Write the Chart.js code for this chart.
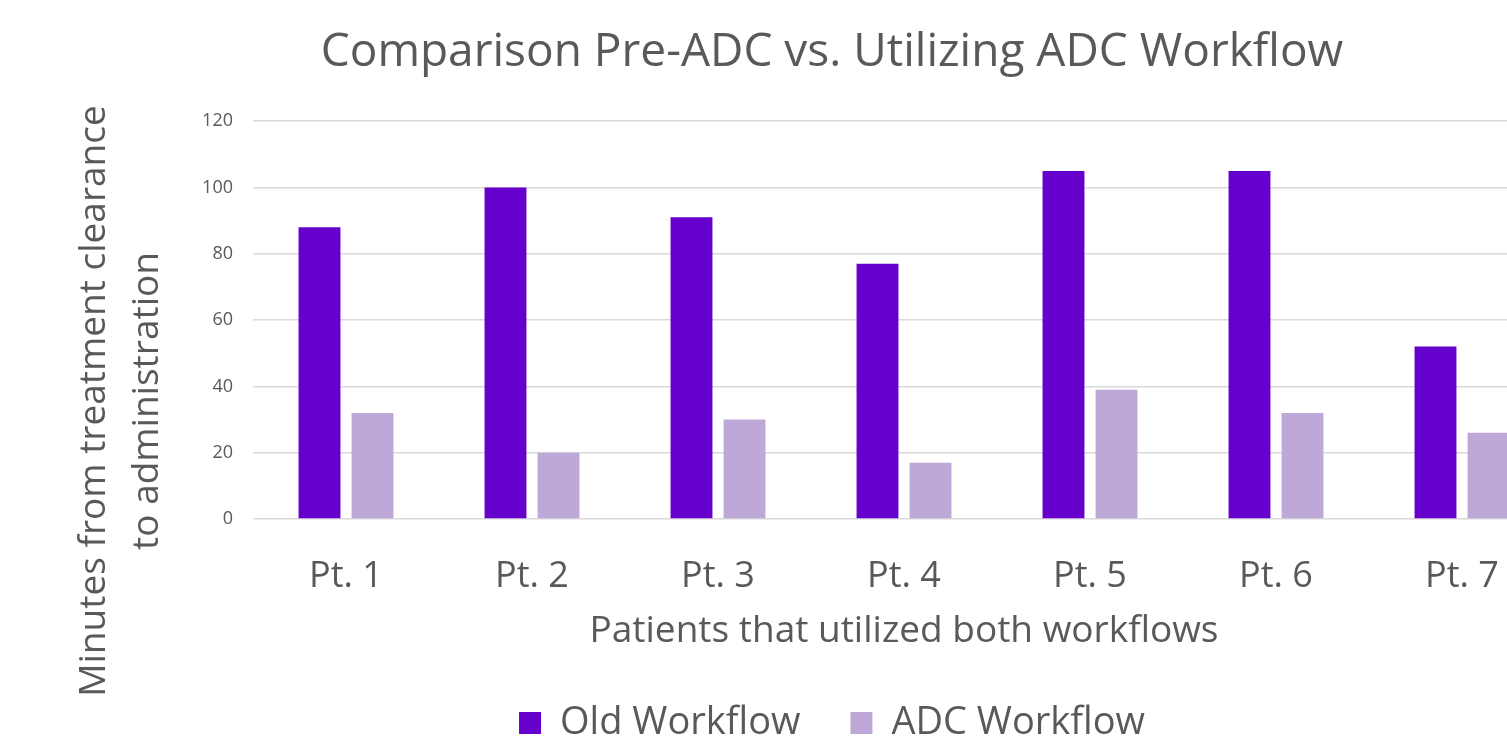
<!DOCTYPE html>
<html>
<head>
<meta charset="utf-8">
<title>Comparison Pre-ADC vs. Utilizing ADC Workflow</title>
<script src="https://cdn.jsdelivr.net/npm/chart.js@4.4.0/dist/chart.umd.min.js"></script>
<style>
  html, body { margin: 0; padding: 0; background: #fff; overflow: hidden; }
  #wrap { position: relative; width: 1664px; height: 752px; }
</style>
</head>
<body>
<div id="wrap"><canvas id="myChart"></canvas></div>
<script>
// data
var patients = ["Pt. 1", "Pt. 2", "Pt. 3", "Pt. 4", "Pt. 5", "Pt. 6", "Pt. 7"];
var oldWorkflow = [88, 100, 91, 77, 105, 105, 52];
var adcWorkflow = [32, 20, 30, 17, 39, 32, 26];
var yTitleLines = ["Minutes from treatment clearance", "to administration"];

var textGrey = "#595959";
Chart.defaults.font.family = "'Open Sans', sans-serif";
Chart.defaults.color = textGrey;

// y axis title drawn by hand, Excel puts it lower than the plot centre
var yTitlePlugin = {
  id: "yTitle",
  afterDraw: function (chart) {
    var ctx = chart.ctx;
    ctx.save();
    ctx.fillStyle = textGrey;
    ctx.font = "37px 'Open Sans'";
    ctx.textAlign = "center";
    ctx.textBaseline = "middle";
    ctx.translate(0, 401);
    ctx.rotate(-Math.PI / 2);
    ctx.fillText(yTitleLines[0], 0, 94);
    ctx.fillText(yTitleLines[1], 0, 147);
    ctx.restore();
  }
};

var ctx = document.getElementById("myChart").getContext("2d");
var myChart = new Chart(ctx, {
  type: "bar",
  data: {
    labels: patients,
    datasets: [
      {
        label: "Old Workflow",
        data: oldWorkflow,
        backgroundColor: "#6600cc",
        barPercentage: 0.79,
        categoryPercentage: 0.57,
      },
      {
        label: "ADC Workflow",
        data: adcWorkflow,
        backgroundColor: "#bea8d8",
        barPercentage: 0.79,
        categoryPercentage: 0.57,
      },
    ],
  },
  options: {
    responsive: true,
    maintainAspectRatio: false,
    animation: false,
    plugins: {
      title: {
        display: true,
        text: "Comparison Pre-ADC vs. Utilizing ADC Workflow",
        font: { size: 46, weight: "normal" },
        color: textGrey,
        padding: { top: 25, bottom: 41 },
      },
      legend: {
        position: "bottom",
        labels: {
          font: { size: 38 },
          color: textGrey,
          boxWidth: 22,
          boxHeight: 22,
          padding: 50,
        },
      },
      tooltip: { enabled: false },
    },
    scales: {
      x: {
        grid: { display: false },
        border: { display: false },
        ticks: { font: { size: 36 }, color: textGrey, padding: 28 },
        title: {
          display: true,
          text: "Patients that utilized both workflows",
          font: { size: 37 },
          color: textGrey,
          padding: { top: 0, bottom: 0 },
        },
        afterFit: function (scale) {
          scale.height = 135;
        },
      },
      y: {
        min: 0,
        max: 120,
        ticks: { stepSize: 20, font: { size: 18 }, color: textGrey, padding: 20 },
        grid: { color: "#d9d9d9", lineWidth: 1.5, drawTicks: false },
        border: { display: false },
        afterFit: function (scale) {
          scale.width = 253;
        },
      },
      // empty right axis, only keeps the room Excel leaves right of the plot
      yRight: {
        type: "linear",
        position: "right",
        grid: { display: false },
        border: { display: false },
        ticks: { display: false },
        afterFit: function (scale) {
          scale.width = 109;
        },
      },
    },
  },
  plugins: [yTitlePlugin],
});
</script>
</body>
</html>
